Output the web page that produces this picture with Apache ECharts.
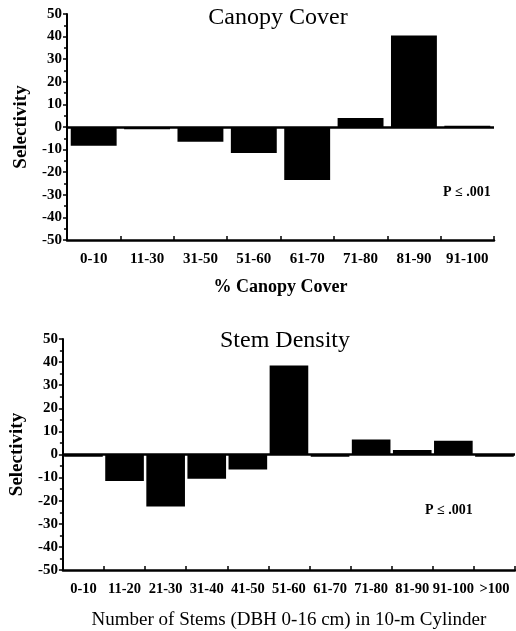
<!DOCTYPE html>
<html><head><meta charset="utf-8">
<script src="https://cdn.jsdelivr.net/npm/echarts@6/dist/echarts.min.js"></script>
<style>html,body{margin:0;padding:0;background:#fff}#c{width:516px;height:631px}</style>
</head><body><div id="c"></div>
<script>
var canopyCats = ['0-10','11-30','31-50','51-60','61-70','71-80','81-90','91-100'];
var canopyVals = [-8.3, -1, -6.5, -11.5, -23.5, 4, 40.5, 0.5];
var stemCats = ['0-10','11-20','21-30','31-40','41-50','51-60','61-70','71-80','81-90','91-100','>100'];
var stemVals = [-1, -11.5, -22.5, -10.5, -6.5, 38.5, -1, 6.5, 2, 6, -1];
var yTicks = [-50,-40,-30,-20,-10,0,10,20,30,40,50];

var F = 'Liberation Serif, Times New Roman, serif';
var chart = echarts.init(document.getElementById('c'), null, {renderer:'canvas'});
function yAx(gi){
  return {gridIndex:gi, type:'value', min:-50, max:50, interval:10,
    axisLine:{show:true, lineStyle:{color:'#000', width:2}},
    axisTick:{show:true, length:4, lineStyle:{color:'#000', width:1.5}},
    minorTick:{show:true, splitNumber:2, length:3, lineStyle:{color:'#000', width:1.5}},
    splitLine:{show:false},
    axisLabel:{color:'#000', fontFamily:F, fontWeight:'bold', fontSize:15, margin:5},
    name:'Selectivity', nameLocation:'middle', nameGap:gi===0?36:34,
    nameTextStyle:{color:'#000', fontFamily:F, fontWeight:'bold', fontSize:19}};
}
function xAx(gi, cats, name, bold, fs, gap){
  return {gridIndex:gi, type:'category', data:cats,
    axisLine:{onZero:false, lineStyle:{color:'#000', width:2.5}},
    axisTick:{show:true, inside:true, length:4, lineStyle:{color:'#000', width:1.5}},
    axisLabel:{color:'#000', fontFamily:F, fontWeight:'bold', fontSize:gi===0?15:14.5, margin:12, interval:0},
    name:name, nameLocation:'middle', nameGap:gap,
    nameTextStyle:{color:'#000', fontFamily:F, fontWeight:bold?'bold':'normal', fontSize:fs}};
}
function ser(xi, vals, gapPct){
  return {type:'bar', xAxisIndex:xi, yAxisIndex:xi, data:vals, barCategoryGap:gapPct,
    itemStyle:{color:'#000'}, silent:true,
    markLine:{symbol:'none', silent:true, label:{show:false},
      lineStyle:{color:'#000', width:2.5, type:'solid'}, data:[{yAxis:0}]}};
}
chart.setOption({
  animation:false,
  title:[
    {text:'Canopy Cover', left:273, top:1, textAlign:'center',
     textStyle:{fontFamily:F, fontWeight:'normal', fontSize:24, color:'#000'}},
    {text:'Stem Density', left:280, top:324, textAlign:'center',
     textStyle:{fontFamily:F, fontWeight:'normal', fontSize:24, color:'#000'}}
  ],
  graphic:[
    {type:'text', left:443, top:185, style:{text:'P ≤ .001', font:'bold 14px '+F, fill:'#000'}},
    {type:'text', left:425, top:503, style:{text:'P ≤ .001', font:'bold 14px '+F, fill:'#000'}}
  ],
  grid:[
    {left:67, right:22, top:14, bottom:391},
    {left:60, right:1, top:339, bottom:60}
  ],
  xAxis:[xAx(0, canopyCats, '% Canopy Cover', true, 18, 38), xAx(1, stemCats, 'Number of Stems (DBH 0-16 cm) in 10-m Cylinder', false, 19, 41)],
  yAxis:[yAx(0), yAx(1)],
  series:[ser(0, canopyVals, '14%'), ser(1, stemVals, '6%')]
});
</script></body></html>
